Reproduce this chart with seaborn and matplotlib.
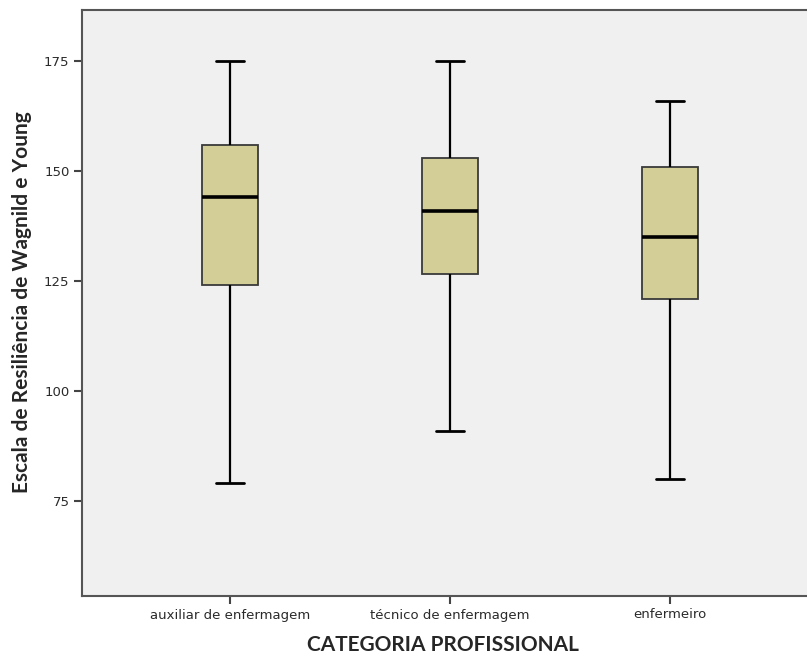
import matplotlib
matplotlib.use('Agg')
import matplotlib.pyplot as plt
import seaborn as sns
import pandas as pd

# five-number summaries (min, q1, median, q3, max)
categorias = ['auxiliar de enfermagem', 'técnico de enfermagem', 'enfermeiro']
auxiliar = [79, 124, 144, 156, 175]
tecnico = [91, 126.5, 141, 153, 175]
enfermeiro = [80, 121, 135, 151, 166]

df = pd.DataFrame({
    'categoria': [categorias[0]] * 5 + [categorias[1]] * 5 + [categorias[2]] * 5,
    'escala': auxiliar + tecnico + enfermeiro,
})

sns.set_style('ticks')
plt.rcParams['font.family'] = ['Lato', 'DejaVu Sans']

fig = plt.figure(figsize=(8.07, 6.55), dpi=100)
ax = fig.add_axes([82 / 807, 1 - 596 / 655, 736 / 807, 586 / 655])
ax.set_facecolor('#F0F0F0')

sns.boxplot(data=df, x='categoria', y='escala', order=categorias, ax=ax,
            width=0.255, whis=(0, 100), color='#D3CE97', saturation=1,
            linecolor='#3A3A3A', linewidth=1.3,
            medianprops={'color': 'black', 'linewidth': 2.6},
            whiskerprops={'color': 'black', 'linewidth': 1.6},
            capprops={'color': 'black', 'linewidth': 2.0},
            showfliers=False)

ax.set_xlim(-0.673, 2.673)
ax.set_ylim(53.4, 186.6)
ax.set_yticks([75, 100, 125, 150, 175])

for side in ['left', 'right', 'top', 'bottom']:
    ax.spines[side].set_visible(True)
    ax.spines[side].set_color('#555555')
    ax.spines[side].set_linewidth(1.5)

ax.tick_params(axis='both', length=6, width=1.5, color='#444444',
               labelsize=9.5, labelcolor='#2A2A2A', pad=3)
for lbl in ax.get_xticklabels() + ax.get_yticklabels():
    lbl.set_family('DejaVu Sans')

ax.set_xlabel('CATEGORIA PROFISSIONAL', fontsize=15, fontweight='bold')
ax.set_ylabel('Escala de Resiliência de Wagnild e Young', fontsize=15,
              fontweight='bold')
ax.xaxis.set_label_coords((443 - 82) / 736, -(645 - 596) / 586)
ax.yaxis.set_label_coords(-(82 - 22) / 736, (596 - 302) / 586)
ax.xaxis.label.set_va('center')
ax.yaxis.label.set_va('center')

fig.savefig('out.png', dpi=100)
